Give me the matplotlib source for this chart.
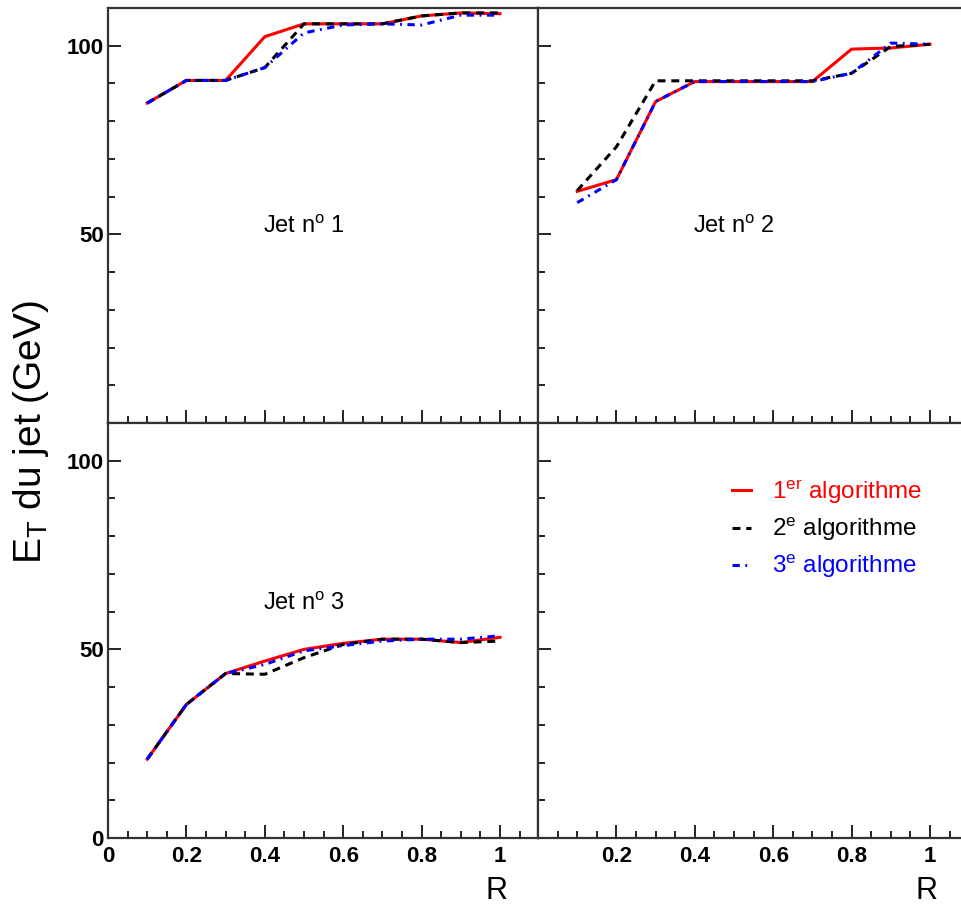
"""
E_T du jet versus R for three jets, compared across three jet algorithms.
Layout copies a ROOT 2x2 canvas with shared frame edges.
"""

import matplotlib
matplotlib.use("Agg")
import matplotlib.pyplot as plt
import matplotlib.ticker as ticker
from matplotlib.transforms import blended_transform_factory

plt.rcParams["font.family"] = ["Liberation Sans", "DejaVu Sans"]
plt.rcParams["mathtext.fontset"] = "custom"
plt.rcParams["mathtext.rm"] = "Liberation Sans"
plt.rcParams["mathtext.it"] = "Liberation Sans:italic"
plt.rcParams["mathtext.bf"] = "Liberation Sans:bold"

# ---- data ------------------------------------------------------------------
R = [0.1, 0.2, 0.3, 0.4, 0.5, 0.6, 0.7, 0.8, 0.9, 1.0]

jet1_algo1 = [84.8, 90.8, 90.8, 102.4, 105.8, 105.8, 105.8, 107.9, 108.7, 108.5]
jet1_algo2 = [84.8, 90.8, 90.8, 94.2, 105.8, 105.8, 105.8, 107.9, 108.7, 108.7]
jet1_algo3 = [84.8, 90.8, 90.8, 94.2, 103.4, 105.5, 105.8, 105.5, 108.1, 108.1]

jet2_algo1 = [61.4, 64.5, 85.2, 90.5, 90.5, 90.5, 90.5, 99.1, 99.4, 100.4]
jet2_algo2 = [61.6, 73.2, 90.7, 90.7, 90.7, 90.7, 90.7, 92.7, 99.8, 100.4]
jet2_algo3 = [58.4, 64.5, 85.2, 90.5, 90.5, 90.5, 90.5, 92.7, 100.7, 100.4]

jet3_algo1 = [20.9, 35.4, 43.6, 46.9, 50.0, 51.6, 52.7, 52.7, 51.8, 53.2]
jet3_algo2 = [20.9, 35.4, 43.6, 43.4, 47.8, 51.3, 52.7, 52.7, 51.8, 52.2]
jet3_algo3 = [20.9, 35.4, 43.6, 46.0, 49.6, 51.0, 52.2, 52.7, 52.7, 53.6]

jet_labels = ["Jet n$^{\\mathrm{o}}$ 1", "Jet n$^{\\mathrm{o}}$ 2", "Jet n$^{\\mathrm{o}}$ 3"]
algo_labels = ["1$^{\\mathrm{er}}$ algorithme",
               "2$^{\\mathrm{e}}$ algorithme",
               "3$^{\\mathrm{e}}$ algorithme"]
x_ticks = [0, 0.2, 0.4, 0.6, 0.8, 1.0]
x_ticklabels = ["0", "0.2", "0.4", "0.6", "0.8", "1"]
y_ticks = [0, 50, 100]
y_ticklabels = ["0", "50", "100"]

# ---- figure -----------------------------------------------------------------
W, H = 961, 918
fig = plt.figure(figsize=(W / 100, H / 100), dpi=100)


def px_box(x0, y0, x1, y1):
    """Axes rect from pixel corners (top-left origin)."""
    return [x0 / W, 1 - y1 / H, (x1 - x0) / W, (y1 - y0) / H]


ax_tl = fig.add_axes(px_box(108, 8, 538, 423))
ax_tr = fig.add_axes(px_box(538, 8, 968, 423))
ax_bl = fig.add_axes(px_box(108, 423, 538, 838))
ax_br = fig.add_axes(px_box(538, 423, 968, 838))

styles = [
    dict(color="#ff0000", lw=2.2, linestyle="-"),
    dict(color="black", lw=2.2, linestyle=(0, (2.6, 1.9))),
    dict(color="#0000ff", lw=2.2, linestyle=(0, (2.4, 1.8, 0.6, 1.8))),
]

panels = [
    (ax_tl, [jet1_algo1, jet1_algo2, jet1_algo3], jet_labels[0], 52.0),
    (ax_tr, [jet2_algo1, jet2_algo2, jet2_algo3], jet_labels[1], 52.0),
    (ax_bl, [jet3_algo1, jet3_algo2, jet3_algo3], jet_labels[2], 62.0),
]

handles = []
for ax, series, label, ty in panels:
    # red first, then black, blue on top
    for i, (vals, st) in enumerate(zip(series, styles)):
        ln, = ax.plot(R, vals, zorder=3 + i * 0.1, **st)
        if ax is ax_tl:
            handles.append(ln)
    ax.text(0.5, ty, label, ha="center", va="center", fontsize=17)

for ax in (ax_tl, ax_tr, ax_bl, ax_br):
    ax.set_xlim(0, 1.097)
    ax.set_ylim(0, 110)
    ax.set_xticks(x_ticks)
    ax.set_yticks(y_ticks)
    ax.xaxis.set_minor_locator(ticker.MultipleLocator(0.05))
    ax.yaxis.set_minor_locator(ticker.MultipleLocator(10))
    ax.tick_params(which="both", direction="in", width=1.4, color="#222222",
                   top=False, right=False)
    ax.tick_params(which="major", length=9.5)
    ax.tick_params(which="minor", length=5)
    ax.tick_params(axis="x", pad=6)
    ax.tick_params(axis="y", pad=3)
    for sp in ax.spines.values():
        sp.set_linewidth(1.6)
        sp.set_color("#333333")
    ax.set_xticklabels([])
    ax.set_yticklabels([])

ax_bl.set_xticklabels(x_ticklabels, fontsize=16, fontweight="bold")
ax_br.set_xticklabels([""] + x_ticklabels[1:], fontsize=16, fontweight="bold")
ax_bl.set_yticklabels(y_ticklabels, fontsize=16, fontweight="bold")
ax_tl.set_yticklabels([""] + y_ticklabels[1:], fontsize=16, fontweight="bold")

# axis titles
for ax in (ax_bl, ax_br):
    tr = blended_transform_factory(ax.transData, fig.transFigure)
    ax.text(0.99, 1 - 891 / H, "R", transform=tr, ha="center", va="center",
            fontsize=22)

fig.text(31 / W, 1 - 432 / H, "E$_{\\mathrm{T}}$ du jet (GeV)", rotation=90,
         ha="center", va="center", fontsize=28)

leg = ax_br.legend(handles, algo_labels, loc="upper left",
                   bbox_to_anchor=(0.45, 0.868), frameon=False, fontsize=17.5,
                   handlelength=0.8, handletextpad=0.85, labelspacing=0.42,
                   borderpad=0, borderaxespad=0, labelcolor="linecolor")

fig.savefig("out.png", dpi=100)
